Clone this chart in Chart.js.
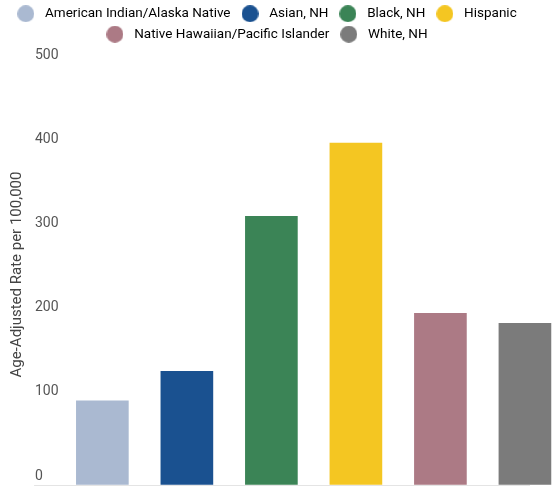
<!DOCTYPE html>
<html>
<head>
<meta charset="utf-8">
<script src="https://cdn.jsdelivr.net/npm/chart.js@4/dist/chart.umd.min.js"></script>
<style>
  html, body { margin: 0; padding: 0; background: #fff; overflow: hidden; }
  #wrap { position: relative; width: 556px; height: 486px; }
</style>
</head>
<body>
<div id="wrap"><canvas id="chart"></canvas></div>
<script>
// --- Data ---
const groups = ['American Indian/Alaska Native', 'Asian, NH', 'Black, NH', 'Hispanic',
                'Native Hawaiian/Pacific Islander', 'White, NH'];
const rates = [100, 135, 319, 406, 204, 192];
const groupColors = ['#aab9d1', '#1a5190', '#3b8456', '#f4c622', '#ac7a85', '#7b7b7b'];
const yTicks = [0, 100, 200, 300, 400, 500];

// little round markers for the legend
function makeDot(color, d) {
    const c = document.createElement('canvas');
    c.width = d; c.height = d;
    const g = c.getContext('2d');
    g.fillStyle = color;
    g.beginPath();
    g.arc(d / 2, d / 2, d / 2, 0, Math.PI * 2);
    g.fill();
    return c;
}

Chart.defaults.font.family = 'Roboto, "Noto Sans", sans-serif';

new Chart(document.getElementById('chart').getContext('2d'), {
    type: 'bar',
    data: {
        datasets: [{
            label: 'Rate',
            data: rates.map((v, i) => ({x: i, y: v})),
            backgroundColor: groupColors,
            barThickness: 52,
            clip: false
        }]
    },
    options: {
        responsive: true,
        maintainAspectRatio: false,
        animation: false,
        layout: { padding: { top: 0, right: 26, bottom: 1, left: 0 } },
        scales: {
            x: {
                type: 'linear',
                position: 'top',
                offset: false,
                min: -0.5,
                max: 5.06,
                grid: { display: false },
                border: { display: false },
                ticks: { display: false },
                afterFit: s => { s.height = 13; }
            },
            y: {
                min: yTicks[0],
                max: yTicks[yTicks.length - 1],
                afterBuildTicks: axis => { axis.ticks = yTicks.map(v => ({value: v})); },
                border: { display: false },
                grid: {
                    color: c => c.tick && c.tick.value === 0 ? '#e4e4e4' : 'rgba(0,0,0,0)',
                    drawTicks: true,
                    tickLength: 26
                },
                ticks: {
                    crossAlign: 'near',
                    padding: -24.5,
                    labelOffset: -9,
                    color: '#555',
                    font: { size: 14 },
                    // left-aligned look: pad short labels with figure spaces
                    callback: v => String(v).padEnd(3, '\u2007')
                },
                title: {
                    display: true,
                    text: 'Age-Adjusted Rate per 100,000',
                    color: '#444',
                    font: { size: 15 },
                    padding: { top: 8, bottom: 33.5 }
                }
            }
        },
        plugins: {
            tooltip: { enabled: false },
            legend: {
                position: 'top',
                labels: {
                    color: '#444',
                    font: { size: 13.5 },
                    usePointStyle: true,
                    pointStyleWidth: 25,
                    boxHeight: 13,
                    padding: 7,
                    generateLabels: () => groups.map((name, i) => ({
                        text: name,
                        fillStyle: groupColors[i],
                        strokeStyle: groupColors[i],
                        lineWidth: 0,
                        pointStyle: makeDot(groupColors[i], 17),
                        hidden: false,
                        datasetIndex: 0,
                        index: i
                    }))
                }
            }
        }
    }
});
</script>
</body>
</html>
